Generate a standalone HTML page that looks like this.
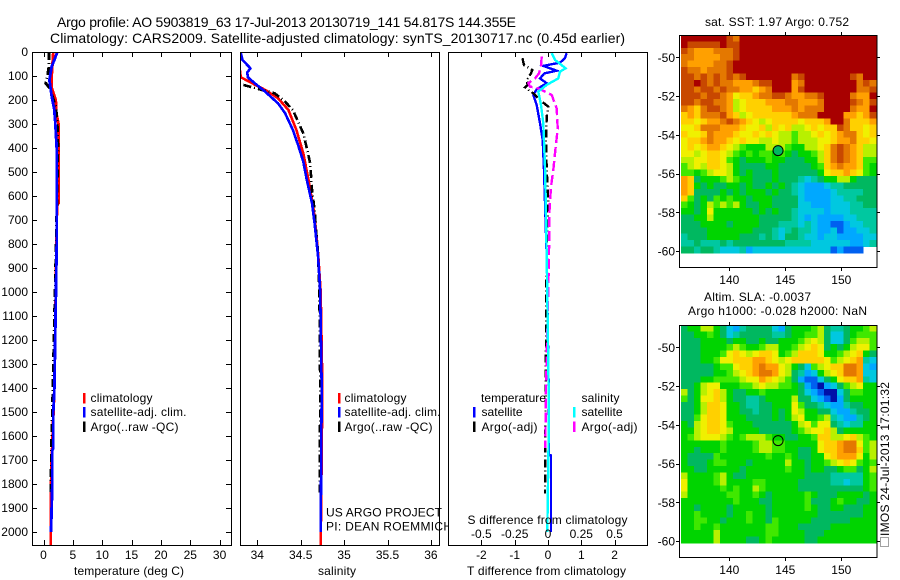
<!DOCTYPE html>
<html lang="en">
<head>
<meta charset="utf-8">
<title>Argo profile 5903819_63</title>
<style>
html,body{margin:0;padding:0;background:#fff;width:900px;height:580px;overflow:hidden}
svg{display:block}
text{font-family:"Liberation Sans",sans-serif;font-size:12px;fill:#000}
</style>
</head>
<body>
<svg id="chart" xmlns="http://www.w3.org/2000/svg" width="900" height="580" viewBox="0 0 900 580">
  <defs>
    <clipPath id="clip-t"><rect x="32" y="52" width="199" height="493"/></clipPath>
    <clipPath id="clip-s"><rect x="240" y="52" width="199" height="493"/></clipPath>
    <clipPath id="clip-d"><rect x="448" y="52" width="200" height="493"/></clipPath>
  </defs>
  <text x="57" y="27" style="font-size:14px" textLength="459">Argo profile: AO 5903819_63 17-Jul-2013 20130719_141 54.817S 144.355E</text>
  <text x="50" y="43" style="font-size:14px" textLength="575">Climatology: CARS2009. Satellite-adjusted climatology: synTS_20130717.nc (0.45d earlier)</text>
  <g id="panels"></g>
  <g id="maps"></g>
  <text transform="translate(889,536) rotate(-90)" x="0" y="0" textLength="154">IMOS 24-Jul-2013 17:01:32</text>
  <rect x="880.5" y="537.5" width="8" height="9" fill="none" stroke="#444" stroke-width="1" stroke-dasharray="1 1"/>
</svg>
<script>
// ---- Depth axis ----
const depthTicks = [0,100,200,300,400,500,600,700,800,900,1000,1100,1200,1300,1400,1500,1600,1700,1800,1900,2000];
// ---- Temperature panel ----
const tempTicks = [0,5,10,15,20,25,30];
const tempClimDepth = [0,100,150,180,200,250,300,630,640,1400,1700,1850,2054];
const tempClimValue = [1.67,1.4,1.4,1.8,2.1,2.17,2.55,2.55,2.3,1.85,1.4,1.22,1.22];
const tempArgoDepth = [0,60,100,130,150,175,230,300,400,800,1430,1600,1840];
const tempArgoValue = [0.93,0.93,0.65,0.37,1.0,1.4,2.13,2.35,2.47,2.15,1.56,1.39,1.22];
const tempSatDepth = [0,30,60,117,185,235,290,400,800,1400,1500,1650,1660,1800,2000];
const tempSatValue = [2.35,1.9,1.4,1.0,1.4,1.8,2.0,2.25,2.25,1.85,1.67,1.67,1.5,1.5,1.28];
// ---- Salinity panel ----
const salTicks = [34,34.5,35,35.5,36];
const salTickLabels = ["34","34.5","35","35.5","36"];
const salClimDepth = [75,105,130,158,193,242,325,422,533,658,839,1000,1400,2054];
const salClimValue = [33.80,33.81,33.94,34.09,34.24,34.36,34.45,34.53,34.59,34.65,34.70,34.73,34.75,34.73];
const salArgoDepth = [137,147,158,172,207,242,290,339,401,464,575,658,755,839,1000,1400,1840];
const salArgoValue = [33.84,33.94,34.05,34.20,34.32,34.41,34.47,34.53,34.57,34.61,34.63,34.66,34.68,34.70,34.715,34.725,34.72];
const salSatDepth = [5,33,68,85,105,130,165,214,255,325,388,457,533,630,714,853,1000,1400,2000];
const salSatValue = [33.81,33.83,33.92,33.885,33.89,33.97,34.09,34.24,34.32,34.41,34.47,34.53,34.57,34.63,34.66,34.70,34.725,34.742,34.73];
// ---- Difference panel ----
const diffTTicks = [-2,-1,0,1,2];
const diffSTicks = [-0.5,-0.25,0,0.25,0.5];
const diffSTickLabels = ["-0.5","-0.25","0","0.25","0.5"];
const diffTSatDepth = [5,26,44,58,78,89,110,130,155,179,221,297,367,492,853,1400,1680,1681,2000];
const diffTSatValue = [0.56,0.51,0.36,-0.14,0.26,-0.11,-0.24,-0.04,-0.34,-0.44,-0.34,-0.24,-0.16,-0.12,-0.04,0.02,0.03,0.09,0.09];
const diffTArgoDepth = [26,54,75,89,117,137,147,172,200,228,269,367,492,617,783,1400,1840];
const diffTArgoValue = [-0.77,-0.72,-0.47,-0.51,-0.64,-0.61,-0.69,-0.44,-0.24,0.01,-0.04,-0.06,-0.04,0.01,-0.04,-0.07,-0.09];
const diffSSatDepth = [5,33,68,82,110,137,165,221,297,478,617,853,1500,2000];
const diffSSatValue = [0.0275,0.0525,0.1325,0.09,0.0775,-0.01,-0.0725,-0.0525,-0.035,-0.0225,-0.0175,-0.01,0.0075,-0.005];
const diffSArgoDepth = [19,61,89,110,130,144,151,165,179,235,319,422,492,561,672,853,1400,1650];
const diffSArgoValue = [-0.0475,-0.0525,-0.0675,-0.0975,-0.1475,-0.135,-0.0775,-0.0225,0.0275,0.065,0.0725,0.0525,0.04,0.0225,0.01,0.0075,-0.015,-0.02];
// ---- Map axes ----
const lonTicks = [140,145,150];
const latTicks = [-50,-52,-54,-56,-58,-60];
const argoLon = 144.355;
const argoLat = -54.817;
// ---- Map cell levels (hex digit per cell, '.' = no data) ----
const sstRows = [
"eeeeeeedceeeeeeeeeeeeeeeeeeeee",
"edddddeddeeeeeeeeeeeeeeeeeeeee",
"dcbbbcccdeeeeeeeeeeeeeeeeeeeee",
"ccbbbbccdeeeeeeeeeeeeeeeeeeeee",
"cbbbbccdeeeeeeeeeeeeeeeeeeeeee",
"dccbcccdeeeeeeeeeeeeeeeeeeeeee",
"ddcdcdcdcdeeeeeeecdeeeeeeedcee",
"ddedcdccbbbcddeeebceeeeeeeecdc",
"ddcddcdccbbabceeebdeeeeeeeeccd",
"dddcddcb9aabccddcbbccdeeeecbbe",
"ddcddccb89aaabbbccbbbceeeedcbd",
"cbacddcb89aaaabbbcbccceeeecbbe",
"abacccdba89aaaaaabccceeeebbabd",
"aa9abbcdcba989aaaa9aaabeecaaab",
"99acccbbba99a8a9a889a9aadcaa9a",
"a99acbbba99a9a9887889a9abcca9a",
"9aabcbba9a9988988788899abbcaa9",
"9a9abba987666888766889acdcba88",
"9989aa98767677676566 78acdcba88".replace(" ",""),
"8899aa97656667665556 68acdcba77".replace(" ",""),
"7898aa98655556655555 67abcbba76".replace(" ",""),
"77678998656555655555 569aaba976".replace(" ",""),
"ba566678766555655543456688 6555".replace(" ",""),
"ba6565566565565654322234455555",
"ba5555656566656554322223444455",
"a75657676656665555322223344555",
"765687878655665555332223334455",
"665696666665656554333323334444",
"556686666666555554323222233444",
"555666656666555444343221123344",
"555566666665554345443223122334",
"455566666555454355433233222233",
"445444545555555544443333332234",
"554554333423333333333331211 1..".replace(" ","")
];
const slaRows = [
"566886532455553256667854456678",
"556676534555554456677853356777",
"555666656655655666789853357887",
"5556666787667886678 9a95656 89977".replace(/ /g,""),
"55566679a989aa9678aaa966789a65",
"55566799aaabba989aaaaa9789ab43",
"555556779aabcbb98653789aaccb32",
"55555667 89abccb98542368 9accb33".replace(/ /g,""),
"55566777 7899ba9875211356 9aab43".replace(/ /g,""),
"556899666778988776521023578966",
"85689a86556676666653210035 7766".replace(" ",""),
"75699a865544566668553210256666",
"5568aa966544556669755432245566",
"5568aa966554556569866553224556",
"5579aa966655556568966784322456",
"6589aa976665555556897995434466",
"6689aa986666555556 7899a8566666".replace(" ",""),
"6789998767888766556 67aa889a876".replace(" ",""),
"66666676666788776666 69aabcc978".replace(" ",""),
"66566676666788776655 69aabcca78".replace(" ",""),
"65555766666667667655 669abbb968".replace(" ",""),
"65556776665666668665 667 89a9767".replace(/ /g,""),
"66556666656666667665 665567 7568".replace(/ /g,""),
"86666786556666666665555444 4467".replace(" ",""),
"966667866667766666555554434467",
"96666676766876666655555555 5567".replace(" ",""),
"866666677667656666676555666656",
"666666667666556666675556766556",
"665666656666656666676556655566",
"667666656676656666666555555566",
"667766566676657666665555556666",
"667667666666677666555556666666",
"666668666666677666655566666666",
"666668666655676666655666666666"
];
// Colour ramp indexed by level
const levelColors = ["#0010a8","#0060f0","#00a8ff","#00c8e0","#00c8a0","#00b860","#00d400","#40e800","#b8f000","#f0f000","#ffd000","#ffa000","#e47800","#c84800","#a80000"];

const NS = "http://www.w3.org/2000/svg";
const panels = document.getElementById("panels");
const maps = document.getElementById("maps");
function mk(tag, attrs, parent, txt){
  const e = document.createElementNS(NS, tag);
  for (const k in attrs) e.setAttribute(k, attrs[k]);
  if (txt !== undefined) e.textContent = txt;
  parent.appendChild(e);
  return e;
}
// axis functions
const yDepth = d => 52 + d * 0.24;
const xTemp = t => 43.5 + 5.87 * t;
const xSal = s => 257.3 + 86.8 * (s - 34);
const xDiffT = t => 548 + 33.3 * t;
const xDiffS = s => 548 + 133.2 * s;

function drawFrame(x, w, name){
  const g = mk("g", {}, panels);
  
  
  const bg = mk("rect", {x:x, y:52, width:w, height:493, fill:"#fff"}, g);
  
  
  return g;
}
function drawBorder(g, x, w){
  const b = mk("rect", {x:x+0.5, y:52.5, width:w, height:493, fill:"none", stroke:"#000", "stroke-width":1, "shape-rendering":"crispEdges"}, g);
  
  
}
function vTicks(g, xs){
  xs.forEach(x => {
    const t = mk("path", {d:`M${Math.round(x)+0.5} 52V57M${Math.round(x)+0.5} 545V540`, stroke:"#000", fill:"none", "shape-rendering":"crispEdges"}, g);
    
    
  });
}
function series(g, xf, depths, vals, color, width, dash, clip, name){
  const d = depths.map((dep,i) => (i ? "L" : "M") + xf(vals[i]).toFixed(1) + " " + yDepth(dep).toFixed(1)).join("");
  const attrs = {d:d, fill:"none", stroke:color, "stroke-width":width, "clip-path":`url(#${clip})`, "shape-rendering":"crispEdges"};
  if (dash) attrs["stroke-dasharray"] = dash;
  const p = mk("path", attrs, g);
  
  
}
function label(g, x, y, s, anchor, name, len){
  const a = {x:x, y:y};
  if (anchor) a["text-anchor"] = anchor;
  if (len) a.textLength = len;
  const t = mk("text", a, g, s);
  
  
  return t;
}
function legendBar(g, x, y, color, name){
  const r = mk("rect", {x:x, y:y, width:2.5, height:10.5, fill:color}, g);
  
  
}
function stdLegend(g, bx, tx){
  legendBar(g, bx, 393, "#f00", "legend-swatch-climatology");
  label(g, tx, 402, "climatology", null, "legend-climatology", 62);
  legendBar(g, bx, 407, "#00f", "legend-swatch-satellite");
  label(g, tx, 416, "satellite-adj. clim.", null, "legend-satellite-adj", 96);
  legendBar(g, bx, 421.5, "#000", "legend-swatch-argo");
  label(g, tx, 431, "Argo(..raw -QC)", null, "legend-argo", 88);
}

// ---- temperature panel ----
const g1 = drawFrame(32, 199, "temperature-panel");
series(g1, xTemp, tempClimDepth, tempClimValue, "#f00", 2.8, null, "clip-t", "series-temp-climatology");
series(g1, xTemp, tempArgoDepth, tempArgoValue, "#000", 2.8, "8 3 1 3", "clip-t", "series-temp-argo");
series(g1, xTemp, tempSatDepth, tempSatValue, "#00f", 2.8, null, "clip-t", "series-temp-satellite");
drawBorder(g1, 32, 199);
vTicks(g1, tempTicks.map(xTemp));
depthTicks.forEach(d => {
  const y = Math.round(yDepth(d)) + 0.5;
  const t = mk("path", {d:`M32 ${y}H37M231 ${y}H226`, stroke:"#000", fill:"none", "shape-rendering":"crispEdges"}, g1);
  
  
  label(g1, 28, yDepth(d) + 4.2, String(d), "end", "depth-tick-label");
});
tempTicks.forEach(v => label(g1, xTemp(v), 559, String(v), "middle", "temp-tick-label"));
label(g1, 129, 575, "temperature (deg C)", "middle", "temperature-axis-title", 110);
stdLegend(g1, 83, 90.5);

// ---- salinity panel ----
const g2 = drawFrame(240, 199, "salinity-panel");
series(g2, xSal, salClimDepth, salClimValue, "#f00", 2.6, null, "clip-s", "series-sal-climatology");
series(g2, xSal, salArgoDepth, salArgoValue, "#000", 2.6, "8 3 1 3", "clip-s", "series-sal-argo");
series(g2, xSal, salSatDepth, salSatValue, "#00f", 2.6, null, "clip-s", "series-sal-satellite");
drawBorder(g2, 240, 199);
vTicks(g2, salTicks.map(xSal));
salTicks.forEach((v,i) => label(g2, xSal(v), 559, salTickLabels[i], "middle", "sal-tick-label"));
label(g2, 337, 575, "salinity", "middle", "salinity-axis-title", 38);
stdLegend(g2, 338, 344.5);
label(g2, 326, 516.5, "US ARGO PROJECT", null, "project-label", 116);
label(g2, 326, 530.5, "PI: DEAN ROEMMICH", null, "pi-label", 126);

// ---- difference panel ----
const g3 = drawFrame(448, 200, "difference-panel");
series(g3, xDiffT, diffTSatDepth, diffTSatValue, "#00f", 2.4, null, "clip-d", "series-dt-satellite");
series(g3, xDiffT, diffTArgoDepth, diffTArgoValue, "#000", 2.4, "8 3 1 3", "clip-d", "series-dt-argo");
series(g3, xDiffS, diffSArgoDepth, diffSArgoValue, "#f0f", 2.4, "10 4", "clip-d", "series-ds-argo");
series(g3, xDiffS, diffSSatDepth, diffSSatValue, "#0ff", 2.4, null, "clip-d", "series-ds-satellite");
drawBorder(g3, 448, 199);
vTicks(g3, diffTTicks.map(xDiffT));
diffTTicks.forEach(v => label(g3, xDiffT(v), 559, String(v), "middle", "dt-tick-label"));
diffSTicks.forEach((v,i) => label(g3, xDiffS(v), 538, diffSTickLabels[i], "middle", "ds-tick-label"));
label(g3, 467.5, 524, "S difference from climatology", null, "s-difference-title", 160);
label(g3, 467, 575, "T difference from climatology", null, "t-difference-title", 159);
label(g3, 481, 402, "temperature", null, "legend-temperature-heading", 65);
label(g3, 481.5, 416, "satellite", null, "legend-t-satellite", 41);
label(g3, 481.5, 431, "Argo(-adj)", null, "legend-t-argo", 56);
label(g3, 581.5, 402, "salinity", null, "legend-salinity-heading", 38);
label(g3, 581.5, 416, "satellite", null, "legend-s-satellite", 41);
label(g3, 581.5, 431, "Argo(-adj)", null, "legend-s-argo", 56);
legendBar(g3, 473, 407, "#00f", "legend-swatch-t-satellite");
legendBar(g3, 473, 421.5, "#000", "legend-swatch-t-argo");
legendBar(g3, 573, 407, "#0ff", "legend-swatch-s-satellite");
legendBar(g3, 573, 421.5, "#f0f", "legend-swatch-s-argo");

// ---- maps ----
function drawMap(rows, top, name, markerFill){
  const g = mk("g", {}, maps);
  
  
  const xLon = lon => 729.3 + 11.2 * (lon - 140);
  const yLat = lat => top + 22.3 + 19.37 * (-50 - lat);
  const cellW = 6.5, cellH = 6.41, x0 = 681, y0 = top;
  rows.forEach((row, j) => {
    const r = row.padEnd(30, row.charAt(row.length - 1));
    for (let i = 0; i < 30; i++) {
      const ch = r.charAt(i);
      if (ch === ".") continue;
      const c = mk("rect", {x:x0 + i * cellW, y:y0 + j * cellH, width:cellW + 0.5, height:cellH + 0.5, fill:levelColors[parseInt(ch, 16)], "shape-rendering":"crispEdges"}, g);
      
      
    }
  });
  const f = mk("rect", {x:679.5, y:top + 0.5, width:197.5, height:232, fill:"none", stroke:"#000", "shape-rendering":"crispEdges"}, g);
  
  
  lonTicks.forEach(v => {
    const x = Math.round(xLon(v)) + 0.5;
    const t = mk("path", {d:`M${x} ${top}v-3M${x} ${top + 233}v3`, stroke:"#000", "shape-rendering":"crispEdges"}, g);
    
    
    label(g, xLon(v), top + 249, String(v), "middle", "lon-tick-label");
  });
  latTicks.forEach(v => {
    const y = Math.round(yLat(v)) + 0.5;
    const t = mk("path", {d:`M679 ${y}h-3M877 ${y}h3`, stroke:"#000", "shape-rendering":"crispEdges"}, g);
    
    
    label(g, 675, yLat(v) + 4.5, String(v), "end", "lat-tick-label");
  });
  const m = mk("circle", {cx:xLon(argoLon), cy:yLat(argoLat), r:5, fill:markerFill, stroke:"#000", "stroke-width":1}, g);
  
  
  return g;
}
const m1 = drawMap(sstRows, 35, "sst-map", "#00b860");
label(m1, 705, 26, "sat. SST: 1.97  Argo: 0.752", null, "sst-map-title", 144);
const m2 = drawMap(slaRows, 325, "sla-map", "none");
label(m2, 704, 301, "Altim. SLA: -0.0037", null, "sla-map-title", 107);
label(m2, 688, 315, "Argo h1000: -0.028 h2000: NaN", null, "sla-map-subtitle", 179);
</script>
</body>
</html>
